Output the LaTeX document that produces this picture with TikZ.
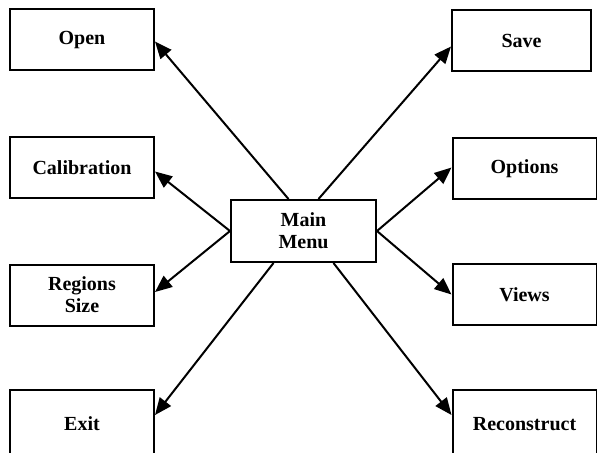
\documentclass[tikz,border=0pt]{standalone}
\usepackage{fontspec}
\setmainfont{Liberation Serif}
\usetikzlibrary{arrows.meta}

\begin{document}
\begin{tikzpicture}[
    x=0.5pt, y=-0.5pt,
    menubox/.style={rectangle, draw, line width=1pt, minimum width=72pt, minimum height=30.5pt, font=\bfseries, align=center, inner sep=2pt},
    mainbox/.style={menubox, minimum width=72.5pt, minimum height=31pt},
    menu_arrow/.style={-{Triangle[length=8.5pt, width=7pt]}, line width=1pt}
]
    \useasboundingbox (0,0) rectangle (597,452);
    \clip (0,0) rectangle (597,452);
    % Main menu
    \node[mainbox] (main) at (303.5,231) {Main\\[-1pt]Menu};
    % Left column
    \node[menubox] (open) at (82,39.5) {Open};
    \node[menubox] (calib) at (82,167.5) {Calibration};
    \node[menubox] (regions) at (82,295) {Regions\\[-1pt]Size};
    \node[menubox, minimum height=34pt] (exit) at (82,424) {Exit};
    % Right column
    \node[menubox, minimum width=69.5pt] (save) at (521.5,40.5) {Save};
    \node[menubox] (options) at (524.5,168.5) {Options};
    \node[menubox] (views) at (524.5,294.5) {Views};
    \node[menubox, minimum height=34pt] (recon) at (524.5,424) {Reconstruct};
    % Arrows
    \draw[menu_arrow] ([xshift=-7.5pt]main.north) -- ([yshift=-1pt]open.east);
    \draw[menu_arrow] (main.west) -- ([yshift=-2pt]calib.east);
    \draw[menu_arrow] (main.west) -- ([yshift=1.5pt]regions.east);
    \draw[menu_arrow] ([xshift=-15pt]main.south) -- ([yshift=4.5pt]exit.east);
    \draw[menu_arrow] ([xshift=7.5pt]main.north) -- ([yshift=-3pt]save.west);
    \draw[menu_arrow] (main.east) -- ([yshift=0.5pt]options.west);
    \draw[menu_arrow] (main.east) -- (views.west);
    \draw[menu_arrow] ([xshift=15pt]main.south) -- ([yshift=4.5pt]recon.west);
\end{tikzpicture}
\end{document}
